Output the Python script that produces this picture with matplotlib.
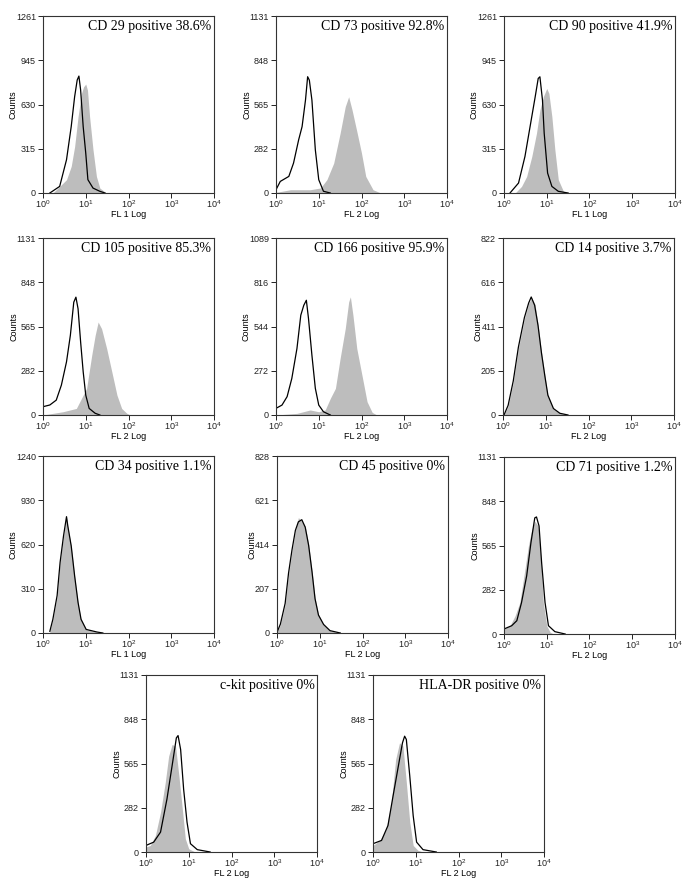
import matplotlib
matplotlib.use('Agg')
import matplotlib.pyplot as plt
import numpy as np

plt.rcParams['font.family'] = ['Liberation Sans', 'DejaVu Sans']
plt.rcParams['mathtext.default'] = 'regular'

# panel labels, y-axis max and channel
titles = ['CD 29 positive 38.6%', 'CD 73 positive 92.8%', 'CD 90 positive 41.9%',
          'CD 105 positive 85.3%', 'CD 166 positive 95.9%', 'CD 14 positive 3.7%',
          'CD 34 positive 1.1%', 'CD 45 positive 0%', 'CD 71 positive 1.2%',
          'c-kit positive 0%', 'HLA-DR positive 0%']
y_max = [1261, 1131, 1261, 1131, 1089, 822, 1240, 828, 1131, 1131, 1131]
channels = ['FL 1 Log', 'FL 2 Log', 'FL 1 Log', 'FL 2 Log', 'FL 2 Log', 'FL 2 Log',
            'FL 1 Log', 'FL 2 Log', 'FL 2 Log', 'FL 2 Log', 'FL 2 Log']
decade_ticks = [1, 10, 100, 1000, 10000]
decade_labels = ['$10^0$', '$10^1$', '$10^2$', '$10^3$', '$10^4$']

# histograms: log10 fluorescence, counts
# gray = stained sample, line = isotype control
cd29_ctrl_x = [0.16, 0.39, 0.55, 0.66, 0.74, 0.80, 0.84, 0.88, 0.94, 1.00, 1.05, 1.17, 1.33, 1.45]
cd29_ctrl_y = [0, 47, 237, 473, 686, 805, 833, 734, 473, 284, 95, 35, 12, 0]
cd29_pos_x = [0.23, 0.39, 0.55, 0.66, 0.74, 0.82, 0.90, 0.95, 1.00, 1.04, 1.09, 1.17, 1.25, 1.33, 1.48]
cd29_pos_y = [0, 47, 95, 190, 331, 544, 710, 757, 776, 734, 544, 308, 118, 35, 0]

cd73_ctrl_x = [0.0, 0.10, 0.30, 0.41, 0.53, 0.61, 0.69, 0.74, 0.78, 0.84, 0.92, 1.00, 1.11, 1.27]
cd73_ctrl_y = [21, 74, 106, 191, 340, 424, 594, 743, 721, 594, 276, 85, 11, 0]
cd73_pos_x = [0.0, 0.34, 0.80, 1.04, 1.19, 1.35, 1.50, 1.62, 1.70, 1.78, 1.90, 2.00, 2.10, 2.27, 2.45]
cd73_pos_y = [4, 21, 21, 32, 85, 191, 382, 552, 615, 530, 382, 255, 106, 21, 0]

cd90_ctrl_x = [0.14, 0.34, 0.49, 0.61, 0.73, 0.80, 0.84, 0.90, 0.94, 1.02, 1.12, 1.27, 1.50]
cd90_ctrl_y = [0, 71, 260, 473, 686, 816, 828, 662, 426, 142, 47, 12, 0]
cd90_pos_x = [0.26, 0.41, 0.53, 0.65, 0.76, 0.84, 0.92, 1.00, 1.05, 1.12, 1.19, 1.27, 1.39, 1.46]
cd90_pos_y = [0, 47, 118, 260, 426, 592, 686, 745, 710, 544, 308, 95, 12, 0]

cd105_ctrl_x = [0.0, 0.16, 0.31, 0.43, 0.55, 0.64, 0.72, 0.77, 0.82, 0.88, 0.94, 1.00, 1.08, 1.22, 1.33]
cd105_ctrl_y = [53, 64, 95, 191, 340, 509, 721, 753, 679, 467, 276, 127, 42, 11, 0]
cd105_pos_x = [0.0, 0.47, 0.78, 0.90, 1.02, 1.14, 1.22, 1.29, 1.37, 1.49, 1.61, 1.73, 1.84, 1.96, 2.04]
cd105_pos_y = [0, 21, 42, 106, 170, 382, 509, 594, 552, 424, 276, 127, 42, 11, 0]

cd166_ctrl_x = [0.0, 0.14, 0.26, 0.37, 0.49, 0.58, 0.65, 0.71, 0.76, 0.84, 0.92, 1.00, 1.11, 1.27]
cd166_ctrl_y = [41, 61, 113, 225, 409, 614, 675, 706, 594, 368, 164, 61, 20, 0]
cd166_pos_x = [0.0, 0.49, 0.80, 1.00, 1.15, 1.27, 1.39, 1.50, 1.62, 1.70, 1.74, 1.80, 1.89, 2.01, 2.13, 2.25, 2.36]
cd166_pos_y = [0, 10, 31, 20, 31, 102, 164, 348, 532, 696, 727, 614, 409, 246, 82, 16, 0]

cd14_ctrl_x = [0.03, 0.12, 0.24, 0.36, 0.50, 0.60, 0.66, 0.74, 0.82, 0.90, 0.98, 1.05, 1.18, 1.33, 1.52]
cd14_ctrl_y = [3, 45, 158, 315, 452, 520, 548, 510, 415, 288, 180, 92, 30, 8, 0]
cd14_pos_x = [0.03, 0.12, 0.24, 0.36, 0.50, 0.60, 0.67, 0.75, 0.82, 0.90, 0.98, 1.05, 1.18, 1.33, 1.52]
cd14_pos_y = [3, 42, 152, 309, 447, 518, 544, 513, 419, 292, 183, 89, 27, 8, 0]

cd34_ctrl_x = [0.16, 0.23, 0.33, 0.40, 0.48, 0.55, 0.58, 0.66, 0.74, 0.82, 0.89, 1.01, 1.26, 1.40]
cd34_ctrl_y = [12, 95, 262, 495, 680, 815, 750, 610, 400, 214, 96, 25, 7, 0]
cd34_pos_x = [0.16, 0.23, 0.33, 0.40, 0.48, 0.55, 0.58, 0.66, 0.74, 0.82, 0.89, 1.01, 1.26, 1.40]
cd34_pos_y = [12, 93, 256, 490, 676, 811, 746, 606, 396, 210, 93, 23, 7, 0]

cd45_ctrl_x = [0.0, 0.08, 0.19, 0.27, 0.35, 0.43, 0.50, 0.58, 0.66, 0.74, 0.82, 0.89, 0.97, 1.09, 1.24, 1.48]
cd45_ctrl_y = [3, 42, 138, 280, 388, 480, 520, 530, 495, 410, 285, 160, 84, 40, 11, 0]
cd45_pos_x = [0.0, 0.08, 0.19, 0.27, 0.35, 0.43, 0.50, 0.58, 0.66, 0.74, 0.82, 0.89, 0.97, 1.09, 1.24, 1.48]
cd45_pos_y = [3, 39, 133, 273, 383, 477, 540, 523, 500, 414, 289, 164, 86, 39, 11, 0]

cd71_ctrl_x = [0.0, 0.18, 0.30, 0.41, 0.53, 0.63, 0.72, 0.76, 0.82, 0.88, 0.96, 1.04, 1.19, 1.43]
cd71_ctrl_y = [32, 53, 85, 201, 371, 583, 742, 748, 690, 456, 201, 53, 15, 0]
cd71_pos_x = [0.0, 0.14, 0.26, 0.37, 0.49, 0.57, 0.65, 0.72, 0.80, 0.87, 0.92, 1.00, 1.08, 1.16]
cd71_pos_y = [32, 53, 117, 201, 414, 562, 668, 721, 690, 456, 201, 53, 11, 0]

ckit_ctrl_x = [0.0, 0.18, 0.34, 0.49, 0.61, 0.71, 0.75, 0.81, 0.88, 0.96, 1.04, 1.20, 1.50]
ckit_ctrl_y = [42, 63, 127, 338, 550, 729, 744, 655, 402, 190, 53, 15, 0]
ckit_pos_x = [0.0, 0.10, 0.22, 0.34, 0.45, 0.53, 0.61, 0.69, 0.77, 0.85, 0.92, 1.00, 1.12, 1.20]
ckit_pos_y = [32, 42, 106, 254, 444, 613, 687, 677, 486, 275, 85, 21, 4, 0]

hladr_ctrl_x = [0.0, 0.20, 0.35, 0.47, 0.58, 0.69, 0.74, 0.78, 0.86, 0.94, 1.02, 1.17, 1.48]
hladr_ctrl_y = [53, 74, 169, 359, 529, 698, 740, 719, 486, 232, 63, 15, 0]
hladr_pos_x = [0.0, 0.16, 0.31, 0.43, 0.53, 0.62, 0.70, 0.78, 0.86, 0.94, 1.05, 1.17]
hladr_pos_y = [42, 74, 148, 317, 592, 698, 677, 444, 190, 42, 11, 0]

ctrl_curves = [(cd29_ctrl_x, cd29_ctrl_y), (cd73_ctrl_x, cd73_ctrl_y), (cd90_ctrl_x, cd90_ctrl_y),
               (cd105_ctrl_x, cd105_ctrl_y), (cd166_ctrl_x, cd166_ctrl_y), (cd14_ctrl_x, cd14_ctrl_y),
               (cd34_ctrl_x, cd34_ctrl_y), (cd45_ctrl_x, cd45_ctrl_y), (cd71_ctrl_x, cd71_ctrl_y),
               (ckit_ctrl_x, ckit_ctrl_y), (hladr_ctrl_x, hladr_ctrl_y)]
pos_curves = [(cd29_pos_x, cd29_pos_y), (cd73_pos_x, cd73_pos_y), (cd90_pos_x, cd90_pos_y),
              (cd105_pos_x, cd105_pos_y), (cd166_pos_x, cd166_pos_y), (cd14_pos_x, cd14_pos_y),
              (cd34_pos_x, cd34_pos_y), (cd45_pos_x, cd45_pos_y), (cd71_pos_x, cd71_pos_y),
              (ckit_pos_x, ckit_pos_y), (hladr_pos_x, hladr_pos_y)]

# axes boxes in pixels: left, top
W, H = 685, 885
boxes = [(43, 16), (276, 16), (504, 16),
         (43, 238), (276, 238), (503, 238),
         (43, 456), (277, 456), (504, 457),
         (146, 675), (373, 675)]
aw, ah = 171, 177

fig = plt.figure(figsize=(W / 100, H / 100), dpi=100)

for i, (left, top) in enumerate(boxes):
    ax = fig.add_axes([left / W, 1 - (top + ah) / H, aw / W, ah / H])
    px, py = pos_curves[i]
    cx, cy = ctrl_curves[i]
    px = 10 ** np.array(px)
    cx = 10 ** np.array(cx)
    ax.fill_between(px, 0, py, color='#bdbdbd', lw=0)
    ax.plot(cx, cy, color='black', lw=0.9)
    ax.set_xscale('log')
    ax.set_xlim(1, 10000)
    ax.set_ylim(0, y_max[i])
    ax.set_xticks(decade_ticks)
    ax.set_xticklabels(decade_labels)
    ax.minorticks_off()
    yt = [0, y_max[i] / 4, y_max[i] / 2, y_max[i] * 3 / 4, y_max[i]]
    ax.set_yticks(yt)
    ax.set_yticklabels([str(int(v)) for v in yt])
    ax.tick_params(labelsize=6.5, length=3.5, width=0.7, pad=1.5, colors='#222222')
    ax.tick_params(axis='x', pad=0.5)
    for s in ax.spines.values():
        s.set_linewidth(0.8)
        s.set_color('#333333')
    ax.set_xlabel(channels[i], fontsize=6.5, labelpad=-0.5)
    ax.set_ylabel('Counts', fontsize=6.5, labelpad=-1)
    ax.text(0.985, 0.975, titles[i], transform=ax.transAxes, ha='right', va='top',
            fontsize=10, family='Liberation Serif')

fig.savefig('out.png', dpi=100)
